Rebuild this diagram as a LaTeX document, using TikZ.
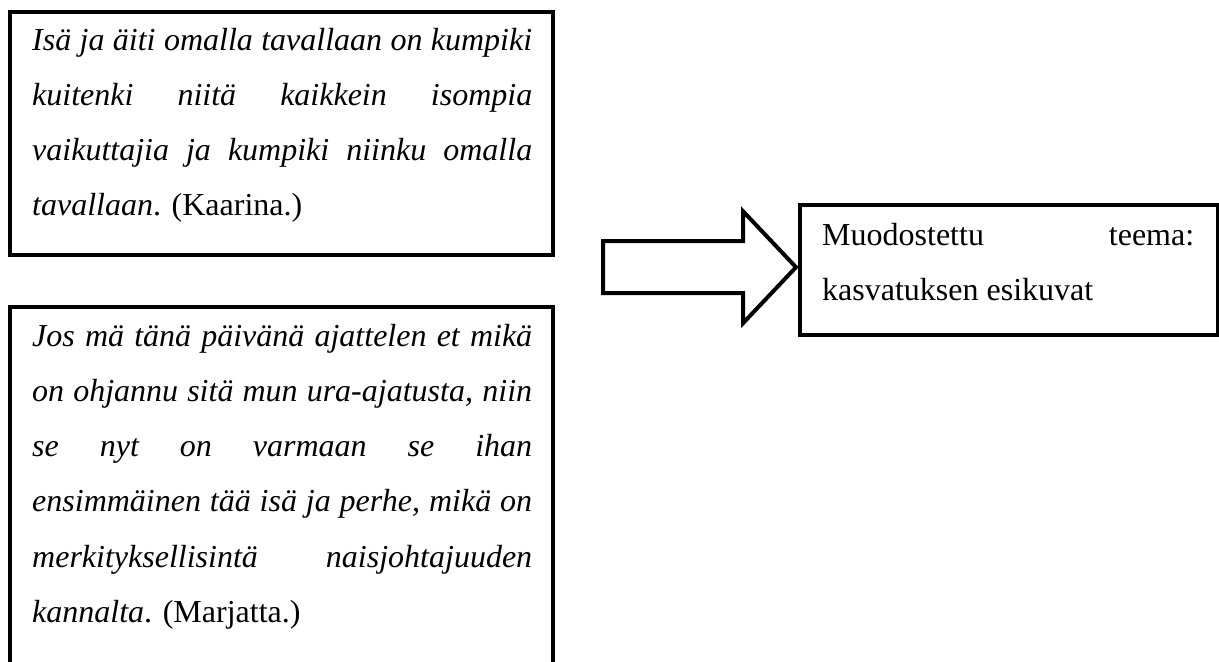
\documentclass[tikz,border=0pt]{standalone}
\usepackage{fontspec}
\setmainfont{Liberation Serif}
\usetikzlibrary{calc}
\tolerance=10000
\hbadness=10000
\hyphenpenalty=10000
\exhyphenpenalty=10000

\begin{document}
\begin{tikzpicture}[x=0.5pt,
					y=-0.5pt,
					line width=2.2pt,
					line join=miter,
					frame/.style={draw, anchor=north west, inner sep=0pt},
					quote/.style={anchor=base west, inner sep=0pt, text width=250pt, align=justify,
					              font=\fontsize{16}{27.65}\selectfont},
					block arrow/.style={draw, line width=2pt, fill=white}]

  \useasboundingbox (0,0) rectangle (1219,661);
  \clip (0,0) rectangle (1219,661);

  \node[frame, minimum width=271.5pt, minimum height=121.5pt] (kaarina box) at (8,10) {};
  \node[frame, minimum width=271.5pt, minimum height=200pt] (marjatta box) at (8,305) {};
  \node[frame, minimum width=209pt, minimum height=65pt] (theme box) at (798,203) {};

  \node[quote] (kaarina) at ($(kaarina box.north west)+(22,40)$)
    {\textit{Isä ja äiti omalla tavallaan on kumpiki\linebreak kuitenki niitä kaikkein isompia\linebreak vaikuttajia ja kumpiki niinku omalla\linebreak tavallaan}. (Kaarina.)};
  \node[quote] (marjatta) at ($(marjatta box.north west)+(22,41)$)
    {\textit{Jos mä tänä päivänä ajattelen et mikä\linebreak on ohjannu sitä mun ura-ajatusta, niin\linebreak se nyt on varmaan se ihan\linebreak ensimmäinen tää isä ja perhe, mikä on\linebreak merkityksellisintä naisjohtajuuden\linebreak kannalta}. (Marjatta.)};
  \node[quote, text width=186pt] (theme) at ($(theme box.north west)+(22,42)$)
    {Muodostettu teema:\linebreak kasvatuksen esikuvat};

  \coordinate (tip) at ($(theme box.west)+(-2,-3)$);
  \draw[block arrow] ($(tip)+(-193,-26)$) -- ++(140,0) -- ++(0,-30) -- (tip)
    -- ++(-53,56) -- ++(0,-30) -- ++(-140,0) -- cycle;
\end{tikzpicture}
\end{document}
